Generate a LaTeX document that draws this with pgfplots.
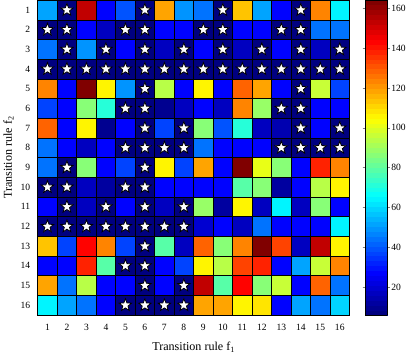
\documentclass[border=0pt]{standalone}
\usepackage{fontspec}
\setmainfont{Liberation Serif}
\usepackage{pgfplots}
\pgfplotsset{compat=1.18}
\pgfplotsset{colormap/jet}
\pgfplotsset{colormap={jetd}{samples of colormap={64 of jet}}}

% filled white star with black rim
\pgfdeclareplotmark{wstar}{%
 \pgfpathmoveto{\pgfpointpolar{90}{\pgfplotmarksize}}%
 \pgfpathlineto{\pgfpointpolar{126}{0.42\pgfplotmarksize}}%
 \pgfpathlineto{\pgfpointpolar{162}{\pgfplotmarksize}}%
 \pgfpathlineto{\pgfpointpolar{198}{0.42\pgfplotmarksize}}%
 \pgfpathlineto{\pgfpointpolar{234}{\pgfplotmarksize}}%
 \pgfpathlineto{\pgfpointpolar{270}{0.42\pgfplotmarksize}}%
 \pgfpathlineto{\pgfpointpolar{306}{\pgfplotmarksize}}%
 \pgfpathlineto{\pgfpointpolar{342}{0.42\pgfplotmarksize}}%
 \pgfpathlineto{\pgfpointpolar{18}{\pgfplotmarksize}}%
 \pgfpathlineto{\pgfpointpolar{54}{0.42\pgfplotmarksize}}%
 \pgfpathclose
 \pgfusepathqfillstroke}

\begin{document}
\begin{tikzpicture}
\begin{axis}[scale only axis,width=310pt,height=313pt,
 xmin=0.5,xmax=16.5,ymin=0.5,ymax=16.5,y dir=reverse,enlargelimits=false,
 xtick={1,...,16},ytick={1,...,16},major tick length=0pt,
 tick label style={font=\fontsize{9.5}{11}\selectfont},
 xticklabel style={yshift=-6pt},yticklabel style={xshift=-4pt},
 /pgf/number format/assume math mode=true,
 label style={font=\fontsize{12}{14}\selectfont},
 xlabel={Transition rule f\textsubscript{1}},ylabel={Transition rule f\textsubscript{2}},
 xlabel style={yshift=-4pt},ylabel style={yshift=0pt},
 colormap name=jetd,colormap access=piecewise constant,
 point meta min=6,point meta max=164,
 colorbar,colorbar style={width=22pt,at={(parent axis.north east)},anchor=north west,xshift=7pt,
  ytick={20,40,...,160},yticklabel pos=right,tick align=outside,major tick length=2.5pt,
  yticklabel style={xshift=-2pt},
  tick label style={font=\fontsize{9.5}{11}\selectfont},
  /pgf/number format/assume math mode=true},
 axis on top]
\addplot[matrix plot*,mesh/cols=16,point meta=explicit,draw=black,line width=0.6pt] coordinates {
(1,1)[52] (2,1)[6] (3,1)[152] (4,1)[26] (5,1)[40] (6,1)[6] (7,1)[118] (8,1)[48] (9,1)[45] (10,1)[6] (11,1)[113] (12,1)[52] (13,1)[26] (14,1)[6] (15,1)[124] (16,1)[65]

(1,2)[6] (2,2)[6] (3,2)[26] (4,2)[18] (5,2)[6] (6,2)[6] (7,2)[26] (8,2)[26] (9,2)[6] (10,2)[6] (11,2)[26] (12,2)[26] (13,2)[6] (14,2)[6] (15,2)[45] (16,2)[45]

(1,3)[45] (2,3)[6] (3,3)[48] (4,3)[6] (5,3)[26] (6,3)[6] (7,3)[18] (8,3)[6] (9,3)[26] (10,3)[6] (11,3)[18] (12,3)[6] (13,3)[26] (14,3)[6] (15,3)[18] (16,3)[6]

(1,4)[6] (2,4)[6] (3,4)[6] (4,4)[6] (5,4)[6] (6,4)[6] (7,4)[6] (8,4)[6] (9,4)[6] (10,4)[6] (11,4)[6] (12,4)[6] (13,4)[6] (14,4)[6] (15,4)[6] (16,4)[6]

(1,5)[124] (2,5)[26] (3,5)[164] (4,5)[105] (5,5)[48] (6,5)[6] (7,5)[93] (8,5)[26] (9,5)[105] (10,5)[26] (11,5)[128] (12,5)[118] (13,5)[26] (14,5)[6] (15,5)[97] (16,5)[36]

(1,6)[36] (2,6)[26] (3,6)[85] (4,6)[72] (5,6)[6] (6,6)[6] (7,6)[10] (8,6)[17] (9,6)[26] (10,6)[17] (11,6)[124] (12,6)[88] (13,6)[6] (14,6)[6] (15,6)[26] (16,6)[26]

(1,7)[128] (2,7)[26] (3,7)[105] (4,7)[10] (5,7)[26] (6,7)[6] (7,7)[38] (8,7)[6] (9,7)[85] (10,7)[40] (11,7)[72] (12,7)[17] (13,7)[15] (14,7)[6] (15,7)[26] (16,7)[6]

(1,8)[45] (2,8)[26] (3,8)[18] (4,8)[26] (5,8)[6] (6,8)[6] (7,8)[6] (8,8)[6] (9,8)[45] (10,8)[26] (11,8)[26] (12,8)[26] (13,8)[6] (14,8)[6] (15,8)[6] (16,8)[6]

(1,9)[45] (2,9)[6] (3,9)[85] (4,9)[26] (5,9)[38] (6,9)[6] (7,9)[105] (8,9)[38] (9,9)[118] (10,9)[26] (11,9)[164] (12,9)[100] (13,9)[85] (14,9)[26] (15,9)[139] (16,9)[124]

(1,10)[6] (2,10)[6] (3,10)[18] (4,10)[11] (5,10)[6] (6,10)[6] (7,10)[26] (8,10)[26] (9,10)[26] (10,10)[26] (11,10)[80] (12,10)[85] (13,10)[11] (14,10)[26] (15,10)[93] (16,10)[105]

(1,11)[26] (2,11)[6] (3,11)[18] (4,11)[6] (5,11)[26] (6,11)[6] (7,11)[18] (8,11)[6] (9,11)[88] (10,11)[11] (11,11)[105] (12,11)[18] (13,11)[65] (14,11)[18] (15,11)[85] (16,11)[26]

(1,12)[6] (2,12)[6] (3,12)[6] (4,12)[6] (5,12)[6] (6,12)[6] (7,12)[6] (8,12)[6] (9,12)[20] (10,12)[26] (11,12)[18] (12,12)[45] (13,12)[26] (14,12)[26] (15,12)[26] (16,12)[65]

(1,13)[113] (2,13)[36] (3,13)[144] (4,13)[124] (5,13)[36] (6,13)[6] (7,13)[80] (8,13)[18] (9,13)[128] (10,13)[85] (11,13)[124] (12,13)[164] (13,13)[133] (14,13)[18] (15,13)[152] (16,13)[105]

(1,14)[26] (2,14)[26] (3,14)[139] (4,14)[80] (5,14)[6] (6,14)[6] (7,14)[26] (8,14)[36] (9,14)[105] (10,14)[93] (11,14)[133] (12,14)[139] (13,14)[26] (14,14)[52] (15,14)[97] (16,14)[124]

(1,15)[118] (2,15)[45] (3,15)[93] (4,15)[26] (5,15)[26] (6,15)[6] (7,15)[26] (8,15)[6] (9,15)[152] (10,15)[80] (11,15)[144] (12,15)[85] (13,15)[97] (14,15)[26] (15,15)[128] (16,15)[45]

(1,16)[65] (2,16)[52] (3,16)[45] (4,16)[26] (5,16)[6] (6,16)[6] (7,16)[6] (8,16)[6] (9,16)[118] (10,16)[118] (11,16)[105] (12,16)[108] (13,16)[26] (14,16)[52] (15,16)[45] (16,16)[58]
};
\addplot[only marks,mark=wstar,mark size=6.5pt,mark options={fill=white,draw=black,line width=0.8pt}] coordinates {
(2,1)(6,1)(10,1)(14,1)
(1,2)(2,2)(5,2)(6,2)(9,2)(10,2)(13,2)(14,2)
(2,3)(4,3)(6,3)(8,3)(10,3)(12,3)(14,3)(16,3)
(1,4)(2,4)(3,4)(4,4)(5,4)(6,4)(7,4)(8,4)(9,4)(10,4)(11,4)(12,4)(13,4)(14,4)(15,4)(16,4)
(6,5)(14,5)
(5,6)(6,6)(13,6)(14,6)
(6,7)(8,7)(14,7)(16,7)
(5,8)(6,8)(7,8)(8,8)(13,8)(14,8)(15,8)(16,8)
(2,9)(6,9)
(1,10)(2,10)(5,10)(6,10)
(2,11)(4,11)(6,11)(8,11)
(1,12)(2,12)(3,12)(4,12)(5,12)(6,12)(7,12)(8,12)
(6,13)
(5,14)(6,14)
(6,15)(8,15)
(5,16)(6,16)(7,16)(8,16)
};
\end{axis}
\end{tikzpicture}
\end{document}
